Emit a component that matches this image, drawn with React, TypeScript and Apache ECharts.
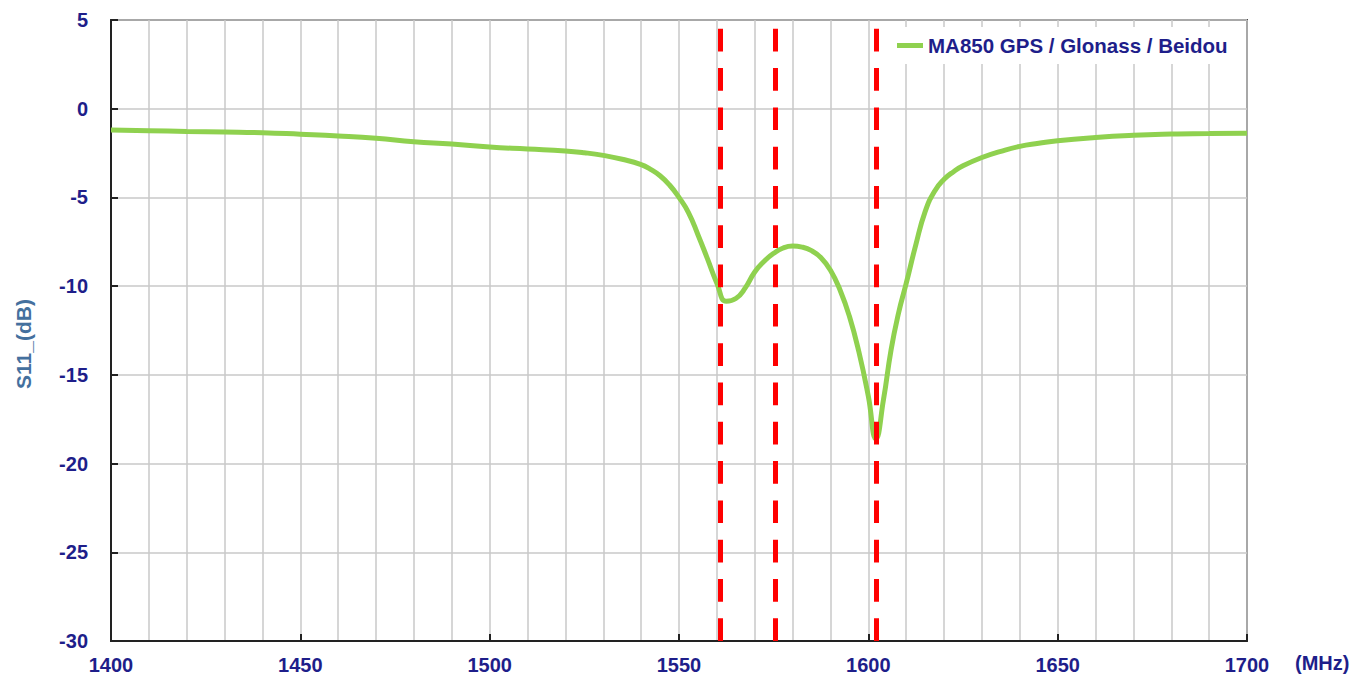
import React, { useEffect, useRef } from "react";
import * as echarts from "echarts";

const freqMHz: number[] = [
  1400, 1410, 1420, 1430, 1440, 1450, 1460, 1470, 1480, 1490, 1500, 1510, 1520, 1525, 1530,
  1535, 1540, 1542.5, 1545, 1547.5, 1550, 1552.5, 1555, 1557.5, 1560, 1562.5, 1565, 1567.5,
  1570, 1572.5, 1575, 1577.5, 1580, 1582.5, 1585, 1587.5, 1590, 1592.5, 1595, 1597.5, 1600,
  1602, 1604, 1606, 1608, 1610, 1612.5, 1615, 1617.5, 1620, 1622.5, 1625, 1630, 1635, 1640,
  1645, 1650, 1660, 1670, 1680, 1690, 1700,
];
const s11dB: number[] = [
  -1.2, -1.24, -1.28, -1.31, -1.35, -1.44, -1.54, -1.67, -1.86, -1.99, -2.16, -2.27, -2.38, -2.48, -2.63,
  -2.85, -3.15, -3.42, -3.78, -4.3, -5.0, -5.85, -7.1, -8.45, -9.83, -10.85, -10.7, -10.1,
  -9.2, -8.6, -8.15, -7.85, -7.74, -7.8, -8.0, -8.4, -9.1, -10.2, -11.7, -13.7, -16.2,
  -18.6, -16.4, -13.6, -11.5, -9.85, -7.7, -5.8, -4.65, -3.98, -3.55, -3.22, -2.75, -2.4, -2.12,
  -1.95, -1.8, -1.62, -1.5, -1.43, -1.39, -1.38,
];
const bandMarkersMHz: number[] = [1561, 1575.42, 1602];
const seriesName = "MA850 GPS / Glonass / Beidou";
const yAxisTitle = "S11_(dB)";
const xAxisUnit = "(MHz)";

const FONT = "'Liberation Sans', Arial, sans-serif";
const NAVY = "#1E1E8A";

export default function App() {
  const ref = useRef<HTMLDivElement>(null);
  useEffect(() => {
    if (!ref.current) return;
    const chart = echarts.init(ref.current, null, { renderer: "svg" });
    const data = freqMHz.map((f, i) => [f, s11dB[i]]);
    chart.setOption({
      animation: false,
      backgroundColor: "#ffffff",
      grid: {
        left: 111,
        top: 20,
        width: 1136,
        height: 621,
        show: true,
        borderColor: "#4a4a4a",
        borderWidth: 2,
        backgroundColor: "transparent",
      },
      legend: {
        show: true,
        data: [{ name: seriesName, icon: "rect" }],
        left: 887,
        top: 27,
        padding: [8, 10, 8, 10],
        backgroundColor: "#ffffff",
        itemWidth: 26,
        itemHeight: 5,
        textStyle: { fontFamily: FONT, fontSize: 20.5, fontWeight: "bold", color: NAVY },
      },
      xAxis: {
        type: "value",
        min: 1400,
        max: 1700,
        interval: 50,
        axisLine: { show: true, onZero: false, lineStyle: { color: "#222", width: 2 } },
        axisTick: { show: true, inside: true, length: 7, lineStyle: { color: "#222", width: 2 } },
        axisLabel: {
          margin: 14,
          fontFamily: FONT,
          fontSize: 20,
          fontWeight: "bold",
          color: NAVY,
          formatter: (v: number) => String(v),
        },
        splitLine: { show: true, lineStyle: { color: "#c8c8c8", width: 1.5 } },
        minorTick: { show: false, splitNumber: 5 },
        minorSplitLine: { show: true, lineStyle: { color: "#c8c8c8", width: 1.5 } },
      },
      yAxis: {
        type: "value",
        min: -30,
        max: 5,
        interval: 5,
        axisLine: { show: true, onZero: false, lineStyle: { color: "#222", width: 2 } },
        axisTick: { show: true, inside: true, length: 7, lineStyle: { color: "#222", width: 2 } },
        axisLabel: {
          margin: 23,
          fontFamily: FONT,
          fontSize: 20,
          fontWeight: "bold",
          color: NAVY,
          formatter: (v: number) => String(v),
        },
        splitLine: { show: true, lineStyle: { color: "#c8c8c8", width: 1.5 } },
      },
      series: [
        {
          name: seriesName,
          type: "line",
          data,
          smooth: 0.5,
          showSymbol: false,
          symbol: "none",
          z: 3,
          lineStyle: { color: "#8FD14F", width: 5 },
          itemStyle: { color: "#8FD14F" },
          markLine: {
            silent: true,
            symbol: ["none", "none"],
            label: { show: false },
            z: 6,
            lineStyle: { color: "#FF0000", width: 5, type: [22.7, 16.6], cap: "butt" },
            emphasis: { disabled: true },
            data: bandMarkersMHz.map((f) => ({ xAxis: f })),
          },
        },
      ],
      graphic: [
        {
          type: "text",
          x: 23,
          y: 344,
          rotation: Math.PI / 2,
          style: {
            text: yAxisTitle,
            fontFamily: FONT,
            fontSize: 21,
            fontWeight: "bold",
            fill: "#44709E",
            textAlign: "center",
            textVerticalAlign: "middle",
          },
        },
        {
          type: "text",
          x: 1295,
          y: 663,
          style: {
            text: xAxisUnit,
            fontFamily: FONT,
            fontSize: 20,
            fontWeight: "bold",
            fill: NAVY,
            textAlign: "left",
            textVerticalAlign: "middle",
          },
        },
      ],
    });
    return () => chart.dispose();
  }, []);
  return (
    <div
      ref={ref}
      style={{ position: "fixed", left: 0, top: 0, width: 1371, height: 681 }}
    />
  );
}
